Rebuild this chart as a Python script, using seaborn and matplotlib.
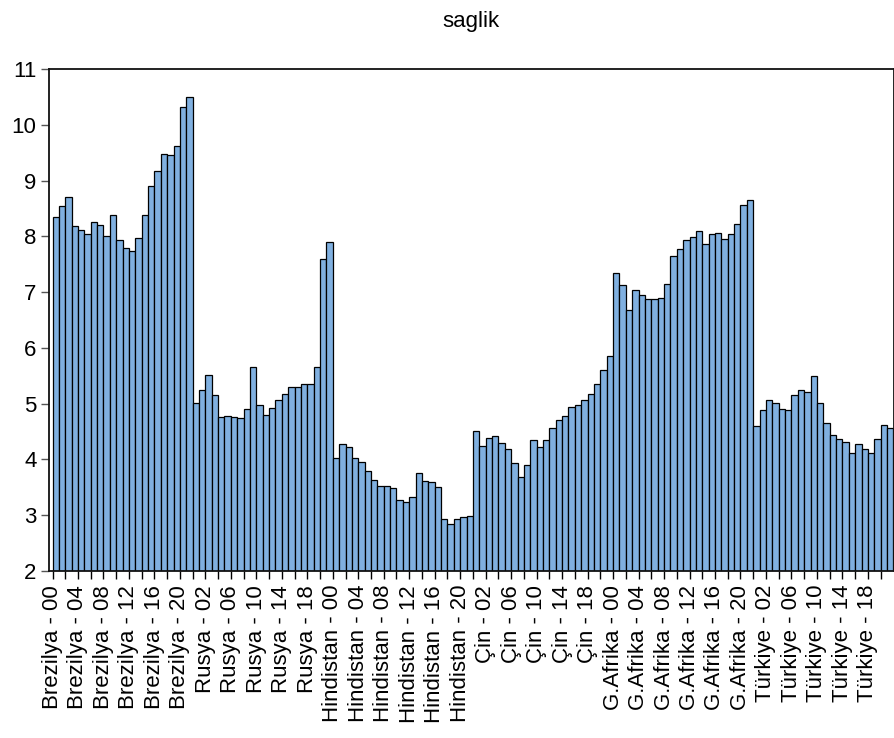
import matplotlib
matplotlib.use("Agg")
import matplotlib.pyplot as plt
import numpy as np
import pandas as pd
import seaborn as sns

countries = ["Brezilya", "Rusya", "Hindistan", "Çin", "G.Afrika", "Türkiye"]
years = [f"{y:02d}" for y in range(22)]

brezilya = [8.34, 8.55, 8.70, 8.19, 8.12, 8.04, 8.25, 8.20, 8.01, 8.39, 7.94,
            7.79, 7.73, 7.97, 8.39, 8.91, 9.17, 9.47, 9.46, 9.62, 10.31, 10.50]
rusya = [5.02, 5.24, 5.52, 5.16, 4.76, 4.77, 4.76, 4.75, 4.90, 5.65, 4.97,
         4.79, 4.93, 5.07, 5.18, 5.29, 5.29, 5.36, 5.36, 5.65, 7.60, 7.90]
hindistan = [4.03, 4.27, 4.23, 4.02, 3.96, 3.79, 3.63, 3.52, 3.52, 3.48, 3.27,
             3.24, 3.33, 3.75, 3.62, 3.60, 3.51, 2.93, 2.85, 2.94, 2.96, 2.99]
cin = [4.51, 4.25, 4.38, 4.42, 4.29, 4.18, 3.94, 3.68, 3.90, 4.35, 4.23,
       4.35, 4.57, 4.71, 4.78, 4.94, 4.98, 5.06, 5.17, 5.35, 5.60, 5.85]
g_afrika = [7.34, 7.12, 6.68, 7.04, 6.94, 6.87, 6.88, 6.90, 7.14, 7.64, 7.78,
            7.94, 7.99, 8.09, 7.86, 8.04, 8.06, 7.96, 8.04, 8.22, 8.56, 8.65]
turkiye = [4.60, 4.88, 5.06, 5.02, 4.91, 4.89, 5.15, 5.24, 5.21, 5.49, 5.02,
           4.66, 4.44, 4.37, 4.32, 4.11, 4.28, 4.18, 4.12, 4.36, 4.62, 4.57]

series = [brezilya, rusya, hindistan, cin, g_afrika, turkiye]
labels = [f"{c} - {y}" for c in countries for y in years]
values = [v for s in series for v in s]
df = pd.DataFrame({"label": labels, "saglik": values})

sns.set_style("ticks")
plt.rcParams['font.family'] = ['Liberation Sans', 'DejaVu Sans']
plt.rcParams['text.color'] = 'black'
plt.rcParams['xtick.labelcolor'] = 'black'
plt.rcParams['ytick.labelcolor'] = 'black'

fig = plt.figure(figsize=(8.95, 7.38), dpi=100)
ax = fig.add_axes([49 / 895, 1 - 571 / 738, 845 / 895, 502 / 738])

sns.barplot(data=df, x="label", y="saglik", color="#80B0E0", saturation=1,
            width=1.0, edgecolor="black", linewidth=0.9, ax=ax)

n = len(labels)
ax.set_xlim(-1.05, n - 0.4)
ax.set_ylim(2, 11)
ax.set_yticks(range(2, 12))

# ticks every 2 bars, labels every 4
tick_pos = np.arange(0, n, 2) - 0.5
tick_lab = [labels[i] if i % 4 == 0 else "" for i in range(0, n, 2)]
ax.set_xticks(tick_pos)
ax.set_xticklabels(tick_lab, rotation=90, fontsize=16, color="black")
ax.tick_params(axis="x", length=6, width=1, direction="out", pad=4, color="black")
ax.tick_params(axis="y", length=6, width=1, direction="out", labelsize=16, pad=3,
               color="#555555", labelcolor="black")

for s in ax.spines.values():
    s.set_linewidth(1.3)
    s.set_color("#111111")

ax.set_xlabel("")
ax.set_ylabel("")
fig.text(471 / 895, 1 - 22 / 738, "saglik", ha="center", va="center",
         fontsize=16, color="black")

fig.savefig("out.png", dpi=100)
